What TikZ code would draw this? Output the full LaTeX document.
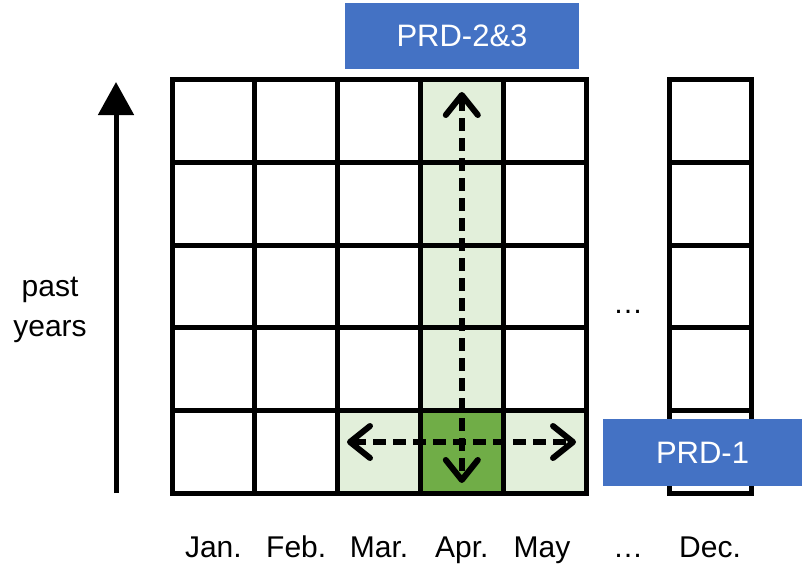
\documentclass[tikz,border=0pt]{standalone}
\usepackage{fontspec}
\setmainfont{Liberation Sans}
\usetikzlibrary{arrows.meta}
\definecolor{prdblue}{HTML}{4472C4}
\definecolor{lightgreen}{HTML}{E2EFDA}
\definecolor{darkgreen}{HTML}{70AD47}

\begin{document}
\begin{tikzpicture}[x=1pt,y=-1pt,
  gridline/.style={line width=5pt, line cap=rect, line join=miter},
  prdbox/.style={fill=prdblue, text=white, inner sep=0pt,
    font=\fontsize{31}{36}\selectfont},
  label/.style={font=\fontsize{30}{40}\selectfont, inner sep=0pt},
  month/.style={label, anchor=base},
  flow/.style={line width=6pt, dash pattern=on 13pt off 7pt,
    {Straight Barb[length=20pt,width=32pt,round]}-{Straight Barb[length=20pt,width=32pt,round]}},
]
\useasboundingbox (0,0) rectangle (802,567);

% shaded cells: April column, bottom row around April, April itself
\fill[lightgreen] (420.4,80) rectangle (503.2,493);
\fill[lightgreen] (337.6,410.4) rectangle (586,493);
\fill[darkgreen] (420.4,410.4) rectangle (503.2,493);

% main grid, January to May
\foreach \y in {80,162.6,245.2,327.8,410.4,493}
  \draw[gridline] (172,\y) -- (586,\y);
\foreach \x in {172,254.8,337.6,420.4,503.2,586}
  \draw[gridline] (\x,80) -- (\x,493);

% December column
\foreach \y in {80,162.6,245.2,327.8,410.4,493}
  \draw[gridline] (669,\y) -- (751,\y);
\foreach \x in {669,751}
  \draw[gridline] (\x,80) -- (\x,493);

% time axis
\coordinate (axisbot) at (116,493);
\coordinate (axistop) at (116,82);
\draw[line width=5pt, -{Triangle[length=33pt,width=35pt]}] (axisbot) -- (axistop);
\node[label, align=center] (past) at (50,310) {past\\years};

% comparison arrows
\coordinate (vtop) at (461.8,92);
\coordinate (vbot) at (461.8,483);
\coordinate (hleft) at (347,442);
\coordinate (hright) at (576,442);
\draw[flow] (vtop) -- (vbot);
\draw[flow] (hleft) -- (hright);

% labels
\node[prdbox, minimum width=234pt, minimum height=66pt] (prd23) at (462,36) {PRD-2\&3};
\node[prdbox, minimum width=199pt, minimum height=67pt] (prd1) at (702.5,452.5) {PRD-1};

\node[label] (dotsmid) at (628,312) {…};

\node[month] (jan) at (213.4,557) {Jan.};
\node[month] (feb) at (296.2,557) {Feb.};
\node[month] (mar) at (379,557) {Mar.};
\node[month] (apr) at (461.8,557) {Apr.};
\node[month] (may) at (542,557) {May};
\node[month] (dotsbot) at (628,557) {…};
\node[month] (dec) at (710,557) {Dec.};
\end{tikzpicture}
\end{document}
